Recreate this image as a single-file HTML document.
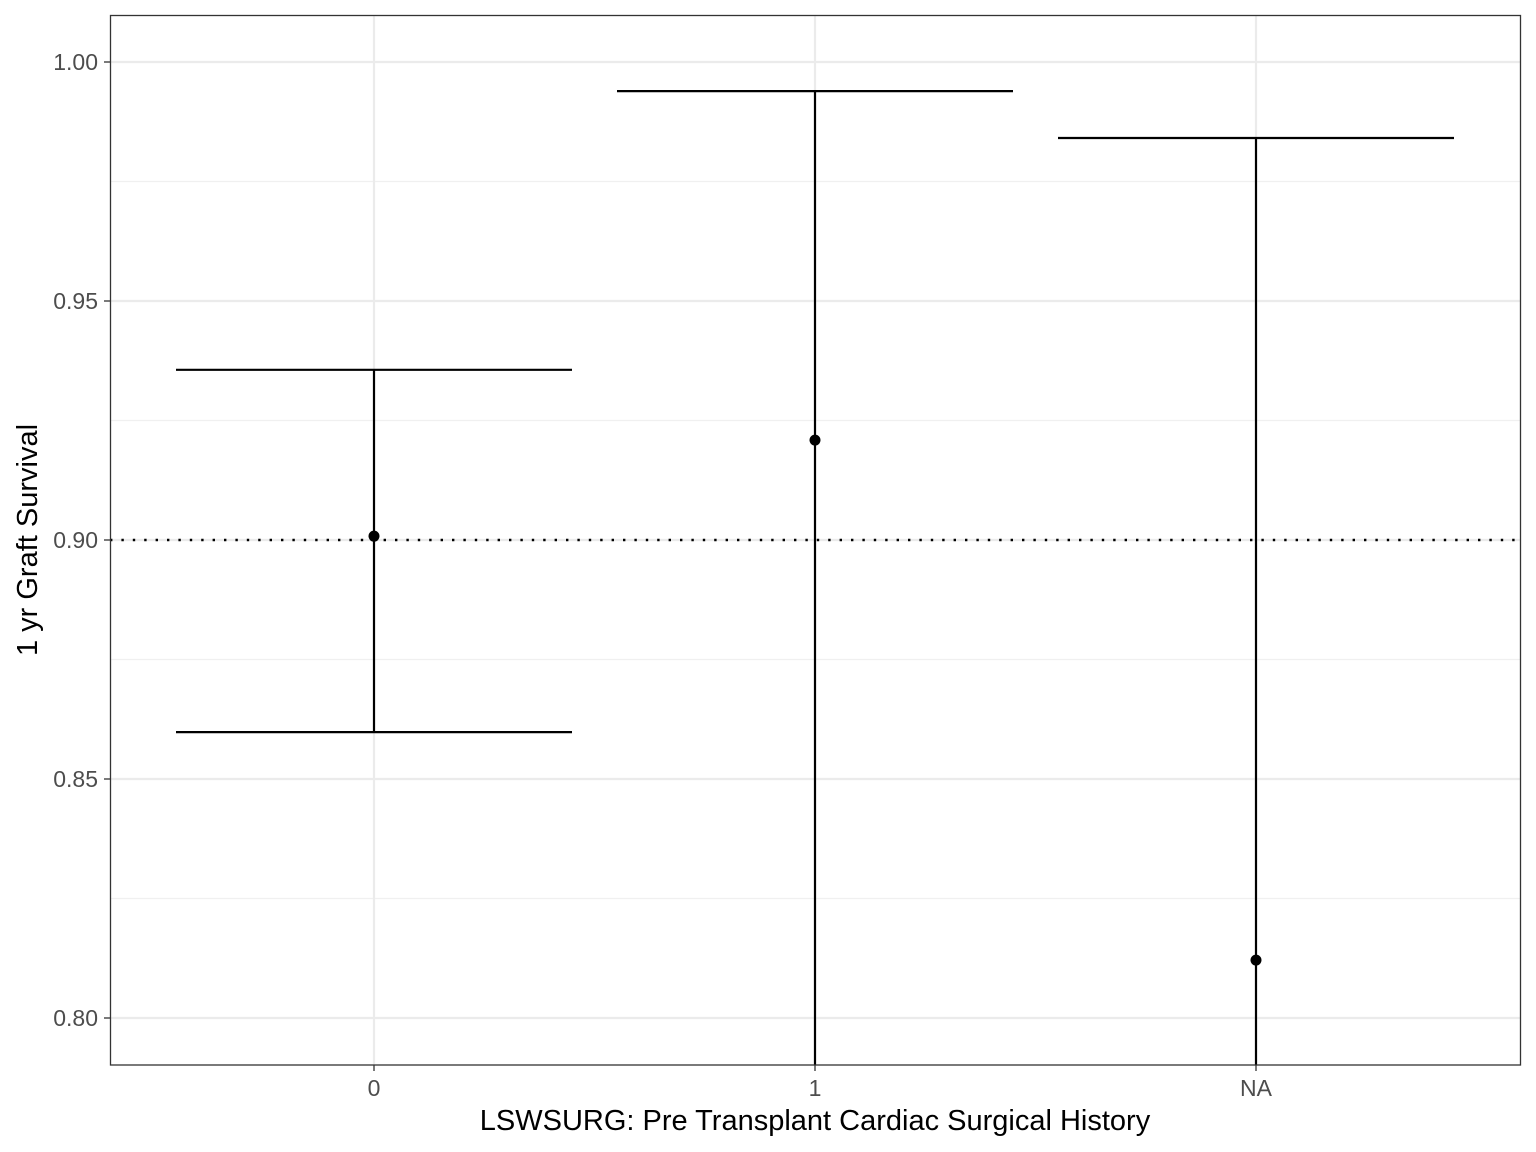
<!DOCTYPE html>
<html><head><meta charset="utf-8"><style>
html,body{margin:0;padding:0;background:#fff;overflow:hidden;width:1536px;height:1152px;}
svg{display:block;}
svg text{font-family:"Liberation Sans",sans-serif;}
</style></head><body>
<svg id="chart" width="1536" height="1152">
<defs><clipPath id="clip"><rect x="110" y="15" width="1411" height="1050"/></clipPath></defs>
<g id="grid"></g>
<g id="marks" clip-path="url(#clip)"></g>
<rect x="110.5" y="15.5" width="1410" height="1049.5" fill="none" stroke="#333" stroke-width="1.3"/>
<g id="axes"></g>
<text x="815" y="1130" font-size="29" text-anchor="middle" fill="#000">LSWSURG: Pre Transplant Cardiac Surgical History</text>
<text transform="translate(37,540) rotate(-90)" font-size="29" text-anchor="middle" fill="#000">1 yr Graft Survival</text>
</svg>
<script>
const categories = ["0", "1", "NA"];
const estimates = [0.9008, 0.9209, 0.8121];
const upperCI = [0.9356, 0.9939, 0.9841];
const lowerCI = [0.8598, 0.785, 0.785];
const yTicks = [0.80, 0.85, 0.90, 0.95, 1.00];
const yTickLabels = ["0.80", "0.85", "0.90", "0.95", "1.00"];
const yMinor = [0.825, 0.875, 0.925, 0.975];
const refLine = 0.9;

const NS = "http://www.w3.org/2000/svg";
const L = 110, R = 1521, T = 15, B = 1065;
const y = v => 1018 - (v - 0.80) * 4780;
const x = i => 374 + i * 441;
const half = 198;
function mk(tag, attrs, parent){const e=document.createElementNS(NS,tag);for(const k in attrs)e.setAttribute(k,attrs[k]);parent.appendChild(e);return e;}
const grid = document.getElementById("grid"), marks = document.getElementById("marks"), axes = document.getElementById("axes");
const yc = v => Math.min(B, Math.max(T, y(v)));

yMinor.forEach(v=>{
  const l = mk("line",{x1:L,x2:R,y1:y(v),y2:y(v),stroke:"#f0f0f0","stroke-width":1.3},grid);
  
  
});
yTicks.forEach((v,i)=>{
  const l = mk("line",{x1:L,x2:R,y1:y(v),y2:y(v),stroke:"#ebebeb","stroke-width":2.2},grid);
  
  
  const t = mk("line",{x1:L-6,x2:L,y1:y(v),y2:y(v),stroke:"#333","stroke-width":1.3},axes);
  
  
  const tx = mk("text",{x:L-12,y:y(v)+8,"font-size":23,"text-anchor":"end",fill:"#4d4d4d"},axes);
  tx.textContent = yTickLabels[i];
  
  
});
categories.forEach((c,i)=>{
  const l = mk("line",{x1:x(i),x2:x(i),y1:T,y2:B,stroke:"#ebebeb","stroke-width":2.2},grid);
  
  
  const t = mk("line",{x1:x(i),x2:x(i),y1:B,y2:B+6,stroke:"#333","stroke-width":1.3},axes);
  
  
  const tx = mk("text",{x:x(i),y:B+31,"font-size":23,"text-anchor":"middle",fill:"#4d4d4d"},axes);
  tx.textContent = c;
  
  
});
const ref = mk("line",{x1:L,x2:R,y1:y(refLine),y2:y(refLine),stroke:"#000","stroke-width":2.4,"stroke-dasharray":"2.4,9"},marks);


categories.forEach((c,i)=>{
  const v = mk("line",{x1:x(i),x2:x(i),y1:yc(upperCI[i]),y2:yc(lowerCI[i]),stroke:"#000","stroke-width":2.2},marks);
  
  
  const u = mk("line",{x1:x(i)-half,x2:x(i)+half,y1:y(upperCI[i]),y2:y(upperCI[i]),stroke:"#000","stroke-width":2.2},marks);
  
  
  if (y(lowerCI[i]) <= B) {
    const lo = mk("line",{x1:x(i)-half,x2:x(i)+half,y1:y(lowerCI[i]),y2:y(lowerCI[i]),stroke:"#000","stroke-width":2.2},marks);
    
    
  }
  const p = mk("circle",{cx:x(i),cy:y(estimates[i]),r:5.5,fill:"#000"},marks);
  
  
});
</script>
</body></html>
